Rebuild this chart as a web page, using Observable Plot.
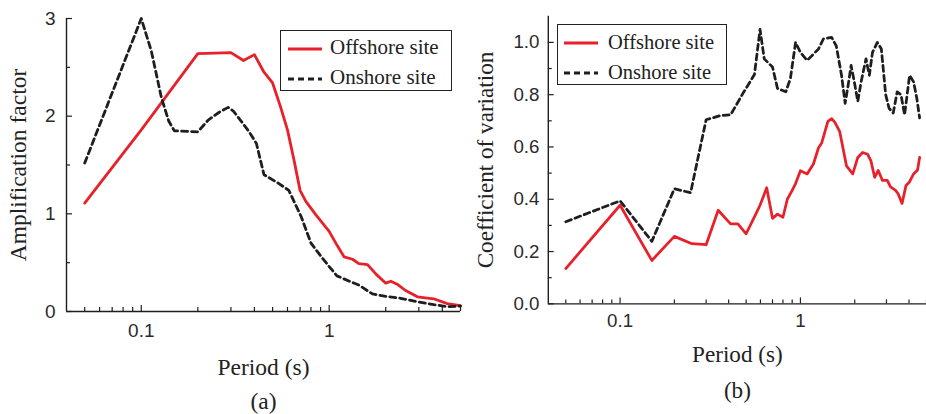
<!DOCTYPE html>
<html>
<head>
<meta charset="utf-8">
<script src="https://cdn.jsdelivr.net/npm/d3@7"></script>
<script src="https://cdn.jsdelivr.net/npm/@observablehq/plot@0.6"></script>
<style>
  html, body { margin: 0; padding: 0; background: #fff; overflow: hidden; }
  #wrap { position: relative; width: 926px; height: 414px; overflow: hidden; }
  .panel { position: absolute; top: 0; }
  .legend { position: absolute; border: 1.3px solid #222; background: #fff; box-sizing: border-box;
            font-family: "Liberation Serif", "Times New Roman", serif; color: #222; }
  .legend svg { position: absolute; }
  .legend span { position: absolute; white-space: nowrap; }
</style>
</head>
<body>
<div id="wrap"></div>
<script>
// ---------- data ----------
const seriesNames = ["Offshore site", "Onshore site"];

// Panel (a): amplification factor
const aOffPeriod = [0.05, 0.1, 0.2, 0.3, 0.35, 0.4, 0.45, 0.5, 0.55, 0.6, 0.65, 0.7, 0.75, 0.85, 1.0, 1.1, 1.2, 1.33, 1.44, 1.6, 1.77, 2.0, 2.13, 2.3, 2.55, 2.95, 3.25, 3.6, 4.25, 5.0];
const aOffValue  = [1.11, 1.86, 2.64, 2.65, 2.57, 2.63, 2.45, 2.34, 2.1, 1.86, 1.55, 1.24, 1.13, 0.99, 0.82, 0.68, 0.56, 0.535, 0.49, 0.48, 0.385, 0.29, 0.31, 0.28, 0.215, 0.15, 0.14, 0.13, 0.08, 0.06];
const aOnPeriod  = [0.05, 0.1, 0.113, 0.128, 0.14, 0.15, 0.2, 0.227, 0.26, 0.29, 0.31, 0.375, 0.41, 0.45, 0.54, 0.61, 0.71, 0.8, 0.9, 1.0, 1.1, 1.28, 1.44, 1.7, 2.0, 2.4, 2.95, 3.6, 4.25, 5.0];
const aOnValue   = [1.52, 3.0, 2.67, 2.19, 1.95, 1.85, 1.84, 1.96, 2.04, 2.09, 2.05, 1.84, 1.72, 1.40, 1.31, 1.24, 0.97, 0.70, 0.57, 0.46, 0.365, 0.31, 0.27, 0.18, 0.155, 0.135, 0.10, 0.07, 0.05, 0.055];

// Panel (b): coefficient of variation
const bOffPeriod = [0.05, 0.1, 0.15, 0.2, 0.25, 0.3, 0.35, 0.41, 0.45, 0.5, 0.556, 0.597, 0.65, 0.7, 0.746, 0.8, 0.846, 0.9, 0.94, 1.0, 1.09, 1.18, 1.26, 1.31, 1.42, 1.49, 1.55, 1.65, 1.8, 1.95, 2.08, 2.21, 2.36, 2.46, 2.58, 2.7, 2.85, 3.03, 3.16, 3.37, 3.48, 3.66, 3.85, 4.01, 4.24, 4.46, 4.58];
const bOffValue  = [0.135, 0.377, 0.166, 0.258, 0.23, 0.226, 0.358, 0.306, 0.306, 0.268, 0.333, 0.377, 0.444, 0.327, 0.343, 0.331, 0.40, 0.434, 0.46, 0.509, 0.497, 0.535, 0.597, 0.614, 0.698, 0.708, 0.695, 0.66, 0.528, 0.497, 0.56, 0.579, 0.572, 0.547, 0.484, 0.51, 0.472, 0.472, 0.447, 0.434, 0.421, 0.384, 0.453, 0.465, 0.497, 0.512, 0.56];
const bOnPeriod  = [0.05, 0.1, 0.15, 0.2, 0.246, 0.3, 0.36, 0.41, 0.48, 0.556, 0.597, 0.63, 0.7, 0.746, 0.83, 0.88, 0.94, 1.0, 1.09, 1.26, 1.34, 1.49, 1.58, 1.69, 1.77, 1.84, 1.91, 1.99, 2.08, 2.17, 2.31, 2.41, 2.51, 2.67, 2.81, 2.97, 3.1, 3.27, 3.44, 3.61, 3.78, 4.03, 4.24, 4.42, 4.58];
const bOnValue   = [0.314, 0.394, 0.239, 0.44, 0.425, 0.704, 0.72, 0.723, 0.805, 0.877, 1.05, 0.937, 0.906, 0.824, 0.811, 0.862, 1.0, 0.962, 0.931, 0.975, 1.013, 1.019, 0.987, 0.874, 0.767, 0.837, 0.912, 0.849, 0.774, 0.849, 0.937, 0.874, 0.962, 1.0, 0.975, 0.80, 0.748, 0.73, 0.811, 0.80, 0.723, 0.874, 0.849, 0.786, 0.711];

// ticks
const xMajor = [0.1, 1];
const xMinor = [0.05, 0.06, 0.07, 0.08, 0.09, 0.2, 0.3, 0.4, 0.5, 0.6, 0.7, 0.8, 0.9, 2, 3, 4, 5];
const aYMajor = [0, 1, 2, 3];
const aYMinor = [0.5, 1.5, 2.5];
const bYMajor = [0, 0.2, 0.4, 0.6, 0.8, 1.0];
const bYMinor = [0.1, 0.3, 0.5, 0.7, 0.9];

const xDomain = [0.04, 5];
const aYDomain = [0, 3];
const bYDomain = [0, 1.1];

const RED = "#e8202a";
const DARK = "#1e1e1e";
const SERIF = "'Liberation Serif', 'Times New Roman', serif";
const SANS = "'Liberation Sans', Arial, sans-serif";

function zip(p, v) { return p.map((d, i) => ({period: d, value: v[i]})); }

function panel(cfg) {
  const {width, height, mL, mR, mT, mB, yDomain, yMajor, yMinor, off, on,
         yTitle, yTitleDx, xTitleDy, capDy, capText, yFmt, xPad, yPad} = cfg;
  const W = width - mL - mR, H = height - mT - mB;
  const titleStyle = {fontSize: 23.5, fontFamily: SERIF, fill: "#222", lineAnchor: "middle", textAnchor: "middle"};
  return Plot.plot({
    width, height,
    marginLeft: mL, marginRight: mR, marginTop: mT, marginBottom: mB,
    style: {background: "transparent", overflow: "visible"},
    x: {type: "log", domain: xDomain, axis: null, label: null},
    y: {domain: yDomain, axis: null, label: null},
    marks: [
      Plot.line(off, {x: "period", y: "value", stroke: RED, strokeWidth: 2.8, strokeLinejoin: "round"}),
      Plot.line(on, {x: "period", y: "value", stroke: DARK, strokeWidth: 2.8, strokeDasharray: "6,4"}),
      // axis lines
      Plot.ruleY([yDomain[0]], {stroke: DARK, strokeWidth: 1.4}),
      Plot.ruleX([xDomain[0]], {stroke: DARK, strokeWidth: 1.4}),
      // inward ticks
      Plot.tickX(xMajor, {x: d => d, insetTop: H - 6, stroke: DARK, strokeWidth: 1.2}),
      Plot.tickX(xMinor, {x: d => d, insetTop: H - 4, stroke: DARK, strokeWidth: 1.2}),
      Plot.tickY(yMajor, {y: d => d, insetRight: W - 6, stroke: DARK, strokeWidth: 1.2}),
      Plot.tickY(yMinor, {y: d => d, insetRight: W - 4, stroke: DARK, strokeWidth: 1.2}),
      // tick labels
      Plot.axisX(xMajor, {label: null, tickSize: 0, tickPadding: xPad, tickFormat: d => String(d), fontSize: 19, fontFamily: SANS, fill: "#2a2a2a"}),
      Plot.axisY(yMajor, {label: null, tickSize: 0, tickPadding: yPad, tickFormat: yFmt, fontSize: 19, fontFamily: SANS, fill: "#2a2a2a"}),
      // titles
      Plot.text([yTitle], {text: d => d, frameAnchor: "left", dx: yTitleDx, rotate: -90, ...titleStyle}),
      Plot.text(["Period (s)"], {text: d => d, frameAnchor: "bottom", dy: xTitleDy, ...titleStyle}),
      Plot.text([capText], {text: d => d, frameAnchor: "bottom", dy: capDy, ...titleStyle})
    ]
  });
}

function legend(box) {
  const el = document.createElement("div");
  el.className = "legend";
  Object.assign(el.style, {left: box.left + "px", top: box.top + "px", width: box.w + "px", height: box.h + "px"});
  const styles = [{stroke: RED, dash: null}, {stroke: DARK, dash: "6,4"}];
  seriesNames.forEach((name, i) => {
    const cy = box.rows[i] - box.top;
    const svg = document.createElementNS("http://www.w3.org/2000/svg", "svg");
    svg.setAttribute("width", box.swW);
    svg.setAttribute("height", 6);
    svg.style.left = (box.swX - box.left) + "px";
    svg.style.top = (cy - 3) + "px";
    const ln = document.createElementNS("http://www.w3.org/2000/svg", "line");
    ln.setAttribute("x1", 0); ln.setAttribute("x2", box.swW);
    ln.setAttribute("y1", 3); ln.setAttribute("y2", 3);
    ln.setAttribute("stroke", styles[i].stroke);
    ln.setAttribute("stroke-width", 2.8);
    if (styles[i].dash) ln.setAttribute("stroke-dasharray", styles[i].dash);
    svg.appendChild(ln);
    el.appendChild(svg);
    const t = document.createElement("span");
    t.textContent = name;
    t.style.fontSize = box.fs + "px";
    t.style.left = (box.txX - box.left) + "px";
    t.style.top = (cy - box.fs * 0.55) + "px";
    t.style.lineHeight = "1";
    el.appendChild(t);
  });
  return el;
}

const wrap = document.getElementById("wrap");

const pa = document.createElement("div");
pa.className = "panel"; pa.style.left = "0px";
pa.appendChild(panel({
  width: 470, height: 414, mL: 66, mR: 10, mT: 18, mB: 103,
  yDomain: aYDomain, yMajor: aYMajor, yMinor: aYMinor,
  off: zip(aOffPeriod, aOffValue), on: zip(aOnPeriod, aOnValue),
  yTitle: "Amplification factor", yTitleDx: -48, xTitleDy: 56, capDy: 90, capText: "(a)",
  yFmt: d => String(d), xPad: 12, yPad: 11
}));
wrap.appendChild(pa);
wrap.appendChild(legend({left: 280, top: 30, w: 172, h: 61, rows: [48, 78], swX: 287, swW: 34, txX: 329, fs: 21}));

const pb = document.createElement("div");
pb.className = "panel"; pb.style.left = "470px";
pb.appendChild(panel({
  width: 463, height: 414, mL: 79, mR: 0, mT: 16, mB: 106,
  yDomain: bYDomain, yMajor: bYMajor, yMinor: bYMinor,
  off: zip(bOffPeriod, bOffValue), on: zip(bOnPeriod, bOnValue),
  yTitle: "Coefficient of variation", yTitleDx: -64, xTitleDy: 52, capDy: 88, capText: "(b)",
  yFmt: d => d.toFixed(1), xPad: 10, yPad: 9
}));
wrap.appendChild(pb);
wrap.appendChild(legend({left: 557, top: 24, w: 170, h: 61, rows: [42, 72], swX: 563, swW: 34, txX: 607, fs: 20.5}));
</script>
</body>
</html>
